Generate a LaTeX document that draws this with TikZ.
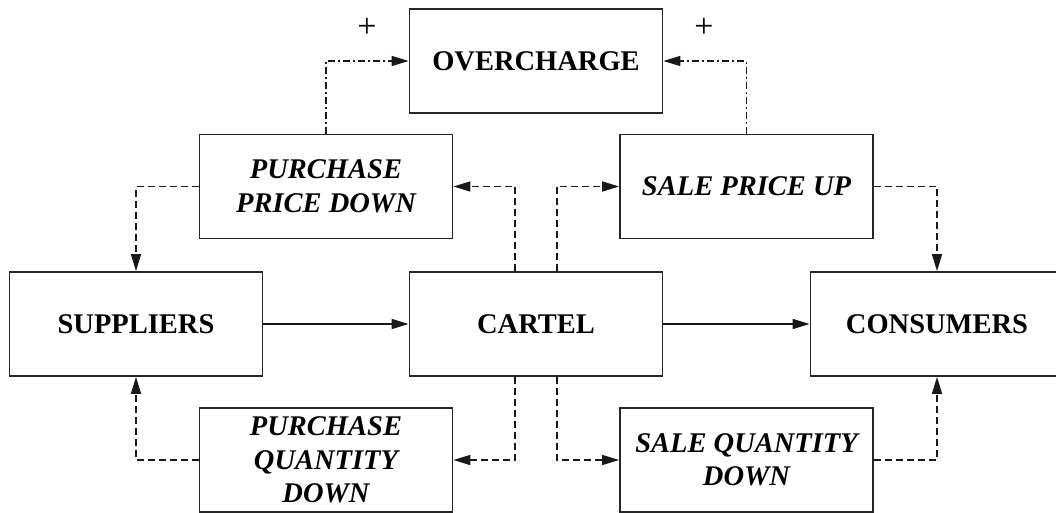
\documentclass[tikz,border=0pt]{standalone}
\usepackage{fontspec}
\setmainfont{Liberation Serif}
\usetikzlibrary{arrows.meta, positioning}

\begin{document}
\begin{tikzpicture}[x=1pt, y=-1pt,
          block/.style={rectangle, draw=black!85, line width=1.8pt, minimum width=253pt, minimum height=104pt,
            inner sep=0pt, align=center, font=\fontsize{28.5}{33.5}\selectfont\bfseries},
          effect/.style={block, font=\fontsize{28.5}{33.5}\selectfont\bfseries\itshape},
          flow/.style={line width=1.6pt, black!90, -{Triangle[length=17pt,width=10pt]}},
          impact/.style={flow, dash pattern=on 7pt off 4pt},
          gain/.style={flow, dash pattern=on 7pt off 3pt on 2pt off 3pt},
          sign/.style={inner sep=0pt, font=\fontsize{34}{34}\selectfont}]
        \useasboundingbox (0,0) rectangle (1056,513);
        \node[block] (over) at (536,61) {OVERCHARGE};
        \node[effect] (ppd) at (326,186.5) {PURCHASE\\PRICE DOWN};
        \node[effect] (spu) at (746.5,186.5) {SALE PRICE UP};
        \node[block] (sup) at (136,324) {SUPPLIERS};
        \node[block] (cartel) at (536,324) {CARTEL};
        \node[block] (cons) at (937,324) {CONSUMERS};
        \node[effect] (pqd) at (326,460) {PURCHASE\\QUANTITY\\DOWN};
        \node[effect] (sqd) at (746.5,460) {SALE QUANTITY\\DOWN};
        \node[sign] (plusL) at (367,28) {+};
        \node[sign] (plusR) at (704,28) {+};
        \draw[flow] (sup)--(cartel);
        \draw[flow] (cartel)--(cons);
        \draw[gain] (ppd.north) |- (over.west);
        \draw[gain] (spu.north) |- (over.east);
        \draw[impact] ([xshift=-21pt]cartel.north) |- (ppd.east);
        \draw[impact] ([xshift=21pt]cartel.north) |- (spu.west);
        \draw[impact] ([xshift=-21pt]cartel.south) |- (pqd.east);
        \draw[impact] ([xshift=21pt]cartel.south) |- (sqd.west);
        \draw[impact] (ppd.west) -| (sup.north);
        \draw[impact] (spu.east) -| (cons.north);
        \draw[impact] (pqd.west) -| (sup.south);
        \draw[impact] (sqd.east) -| (cons.south);
      \end{tikzpicture}
\end{document}
